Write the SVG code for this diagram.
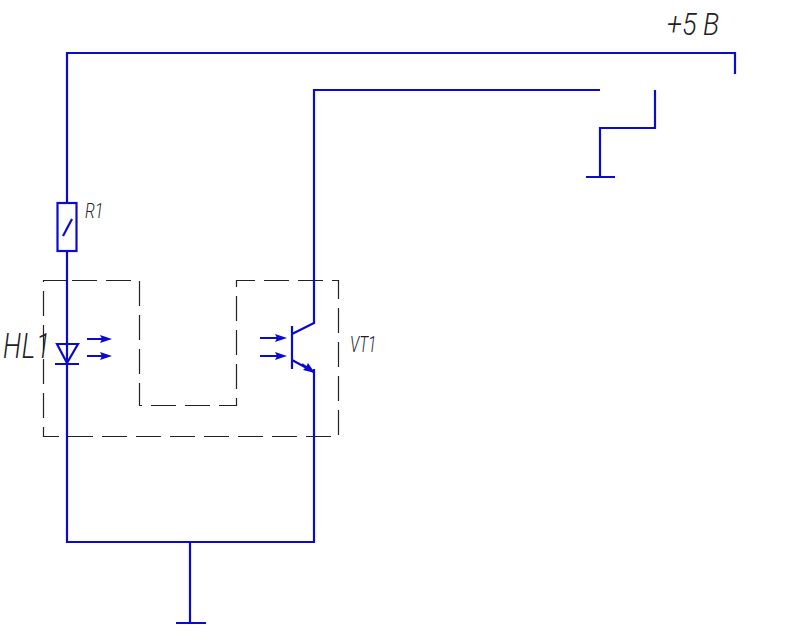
<svg xmlns="http://www.w3.org/2000/svg" width="787" height="636" viewBox="0 0 787 636">
<style>
.w{fill:none;stroke:#0a0ad0;stroke-width:2.2}
.t{fill:none;stroke:#0a0ad0;stroke-width:2}
.d{fill:none;stroke:#222;stroke-width:1.2;stroke-dasharray:25 9}
.h{fill:#0a0ad0;stroke:none}
text{font-family:Roboto,"Liberation Sans",Arial,sans-serif;font-style:italic;fill:#222;font-weight:300}
</style>
<rect width="787" height="636" fill="#fff"/>
<g id="enclosure"><path class="d" d="M67 280.500H43.500V436.500H338.500V280.500H236.500V405.500H139.500V280.500H67"/></g>
<g id="connectors">
<path class="w" d="M735 74V53H67V203M67 250V543M314 369V542H67M190 542V623M176 623H206"/>
<path class="w" d="M314 324V90H600"/>
<path class="w" d="M655 90V128H600V177M586 177H615"/>
</g>
<g id="R1"><rect class="w" x="57.500" y="203" width="19" height="48"/><path class="w" d="M63 236L72 219"/><text transform="translate(85 218) scale(.8 1)" font-size="20">R1</text></g>
<g id="HL1">
<path class="w" d="M57 344H78L67 363ZM55 364H79"/>
<path class="t" d="M87 339H106M87 356H106"/>
<path class="h" d="M112 339L100 335L102 339L100 343ZM112 356L100 352L102 356L100 360Z"/>
<text transform="translate(3 358) scale(.75 1)" font-size="35" letter-spacing="1">HL1</text>
</g>
<g id="VT1">
<path class="w" d="M292 326V369M292 334L314 323M292 360L314 372"/>
<path class="t" d="M260 338H282M260 356H282M302 364L312 371"/>
<path class="h" d="M287 338L275 334L277 338L275 342ZM287 356L275 352L277 356L275 360ZM315 373L303 370L306 367L308 363Z"/>
<text transform="translate(350 352) scale(.7 1)" font-size="22">VT1</text>
</g>
<g id="supply"><text transform="translate(667 35) scale(.85 1)" font-size="32">+5 В</text></g>
</svg>
